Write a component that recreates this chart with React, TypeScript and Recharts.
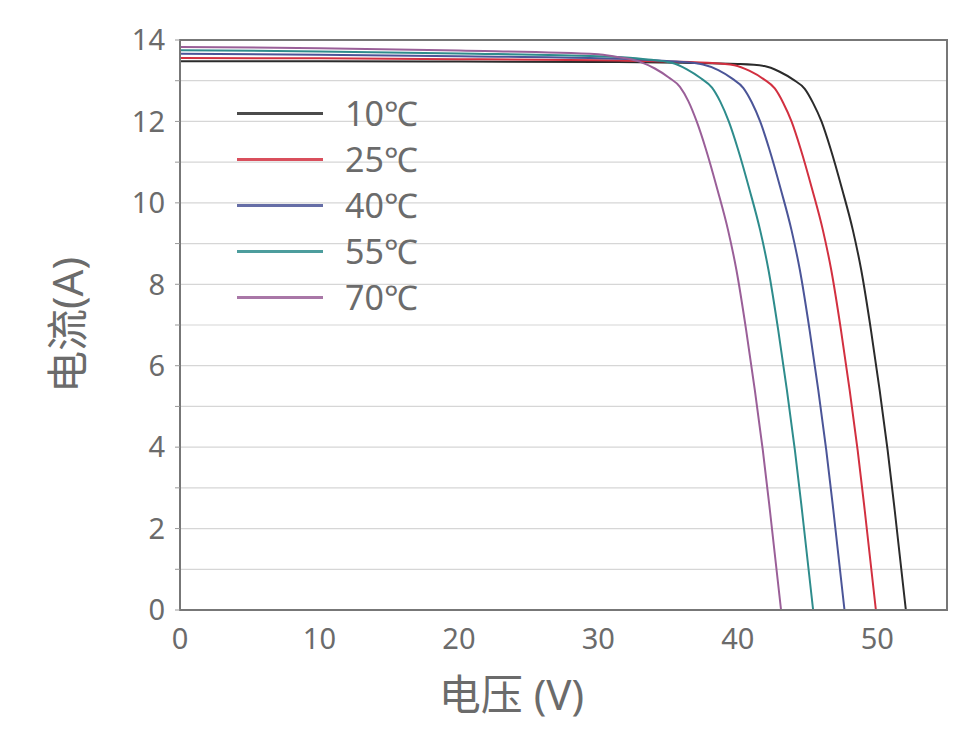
import {
  LineChart,
  Line,
  XAxis,
  YAxis,
  CartesianGrid,
  ReferenceArea,
  Label,
} from 'recharts';

// voltage (V) / current (A), one pair per temperature
const v10 = [0, 10, 20, 30, 36, 40, 41.9, 43.0, 44.0, 44.8, 45.4, 46.0, 46.65, 47.5, 48.25, 48.85, 49.55, 50.17, 50.74, 51.25, 52.05];
const i10 = [13.48, 13.48, 13.47, 13.46, 13.44, 13.41, 13.36, 13.22, 13.02, 12.8, 12.45, 12.0, 11.33, 10.31, 9.33, 8.35, 6.87, 5.4, 3.93, 2.45, 0];

const v25 = [0, 10, 20, 30, 34, 37.85, 39.75, 40.85, 41.85, 42.65, 43.25, 43.85, 44.5, 45.35, 46.1, 46.7, 47.4, 48.02, 48.59, 49.1, 49.9];
const i25 = [13.56, 13.55, 13.53, 13.5, 13.48, 13.44, 13.38, 13.24, 13.04, 12.81, 12.46, 12.0, 11.33, 10.31, 9.33, 8.35, 6.87, 5.4, 3.93, 2.45, 0];

const v40 = [0, 10, 20, 30, 33, 35.6, 37.5, 38.6, 39.6, 40.4, 41.0, 41.6, 42.25, 43.1, 43.85, 44.45, 45.15, 45.77, 46.34, 46.85, 47.65];
const i40 = [13.66, 13.64, 13.6, 13.55, 13.52, 13.47, 13.4, 13.26, 13.05, 12.82, 12.47, 12.0, 11.33, 10.31, 9.33, 8.35, 6.87, 5.4, 3.93, 2.45, 0];

const v55 = [0, 10, 20, 30, 32, 33.35, 35.25, 36.35, 37.35, 38.15, 38.75, 39.35, 40.0, 40.85, 41.6, 42.2, 42.9, 43.52, 44.09, 44.6, 45.4];
const i55 = [13.75, 13.72, 13.67, 13.6, 13.57, 13.53, 13.44, 13.28, 13.06, 12.83, 12.48, 12.0, 11.33, 10.31, 9.33, 8.35, 6.87, 5.4, 3.93, 2.45, 0];

const v70 = [0, 10, 20, 30, 31.05, 32.95, 34.05, 35.05, 35.85, 36.45, 37.05, 37.7, 38.55, 39.3, 39.9, 40.6, 41.22, 41.79, 42.3, 43.1];
const i70 = [13.83, 13.8, 13.74, 13.65, 13.6, 13.47, 13.3, 13.08, 12.85, 12.5, 12.0, 11.33, 10.31, 9.33, 8.35, 6.87, 5.4, 3.93, 2.45, 0];

const xTicks = [0, 10, 20, 30, 40, 50];
const yTicks = [0, 1, 2, 3, 4, 5, 6, 7, 8, 9, 10, 11, 12, 13, 14];

const toPoints = (v: number[], i: number[]) => v.map((x, k) => ({ v: x, i: i[k] }));

const SERIES = [
  { name: '10℃', color: '#2b2b2b', data: toPoints(v10, i10) },
  { name: '25℃', color: '#d23040', data: toPoints(v25, i25) },
  { name: '40℃', color: '#4b5598', data: toPoints(v40, i40) },
  { name: '55℃', color: '#2e8c8c', data: toPoints(v55, i55) },
  { name: '70℃', color: '#9a5f98', data: toPoints(v70, i70) },
];

const FONT = '"Noto Sans", "Noto Sans CJK SC", sans-serif';
const GREY = '#6b6b6b';

function TempLegend() {
  return (
    <div style={{ position: 'absolute', left: 237, top: 90, fontFamily: FONT }}>
      {SERIES.map((s) => (
        <div key={s.name} style={{ display: 'flex', alignItems: 'center', height: 46 }}>
          <div style={{ width: 86, height: 3, background: s.color, opacity: 0.85 }} />
          <span style={{ marginLeft: 22, fontSize: 34, color: GREY, lineHeight: '46px' }}>
            {s.name}
          </span>
        </div>
      ))}
    </div>
  );
}

export default function App() {
  return (
    <div style={{ position: 'absolute', left: 0, top: 0, width: 961, height: 730, background: '#fff' }}>
      <LineChart
        width={961}
        height={730}
        margin={{ top: 40, right: 14, bottom: 90, left: 0 }}
        style={{ fontFamily: FONT }}
      >
        <CartesianGrid horizontal vertical={false} stroke="#d6d6d6" strokeWidth={1.2} />
        <XAxis
          type="number"
          dataKey="v"
          domain={[0, 55]}
          ticks={xTicks}
          allowDataOverflow
          height={30}
          tickLine={false}
          axisLine={{ stroke: '#777', strokeWidth: 2 }}
          tick={{ fill: GREY, fontSize: 29 }}
          tickMargin={12}
        >
          <Label
            value="电压 (V)"
            position="bottom"
            offset={40}
            dx={-52}
            style={{ fill: GREY, fontSize: 42 }}
          />
        </XAxis>
        <YAxis
          type="number"
          domain={[0, 14]}
          ticks={yTicks}
          interval={0}
          width={180}
          tickSize={5}
          tickLine={{ stroke: '#999' }}
          axisLine={{ stroke: '#777', strokeWidth: 2 }}
          tick={{ fill: GREY, fontSize: 29 }}
          tickFormatter={(t: number) => (t % 2 === 0 ? String(t) : '')}
          tickMargin={10}
        >
          <Label
            value="电流(A)"
            angle={-90}
            position="insideLeft"
            offset={68}
            style={{ fill: GREY, fontSize: 42, textAnchor: 'middle' }}
          />
        </YAxis>
        <ReferenceArea
          x1={0}
          x2={55}
          y1={0}
          y2={14}
          fill="none"
          stroke="#777"
          strokeWidth={2}
          ifOverflow="visible"
        />
        {SERIES.map((s) => (
          <Line
            key={s.name}
            name={s.name}
            data={s.data}
            dataKey="i"
            type="monotone"
            stroke={s.color}
            strokeWidth={2}
            dot={false}
            isAnimationActive={false}
          />
        ))}
      </LineChart>
      <TempLegend />
    </div>
  );
}
